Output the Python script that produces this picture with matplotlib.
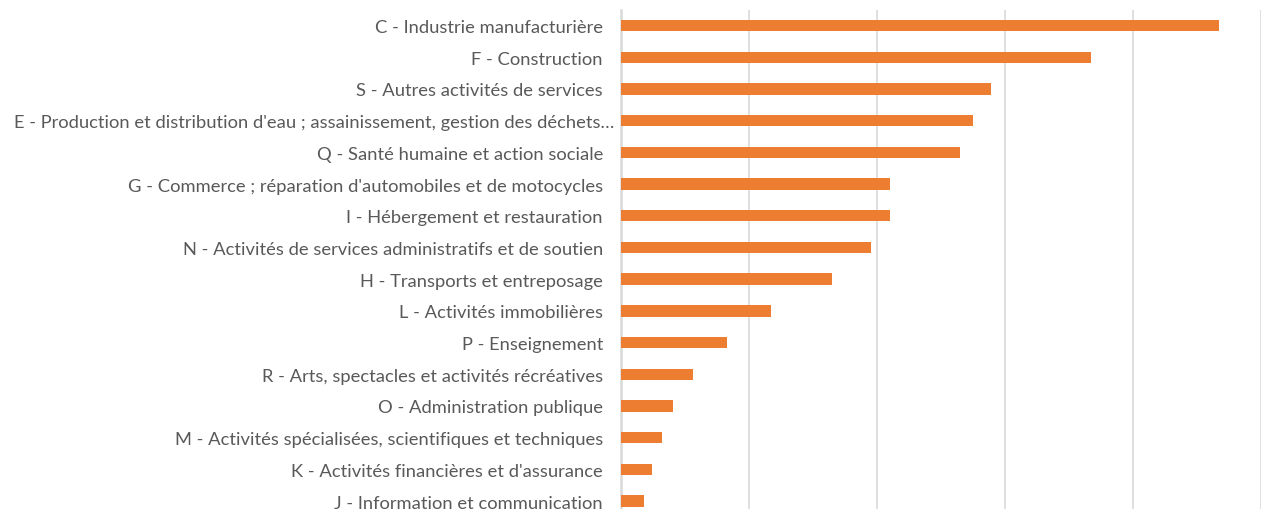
import matplotlib
matplotlib.use('Agg')
from matplotlib import pyplot as plt
from matplotlib.transforms import ScaledTranslation

plt.rcParams['font.family'] = ['Lato', 'DejaVu Sans']

# Données (de haut en bas)
secteurs = [
    "C - Industrie manufacturière",
    "F - Construction",
    "S - Autres activités de services",
    "E - Production et distribution d'eau ; assainissement, gestion des déchets…",
    "Q - Santé humaine et action sociale",
    "G - Commerce ; réparation d'automobiles et de motocycles",
    "I - Hébergement et restauration",
    "N - Activités de services administratifs et de soutien",
    "H - Transports et entreposage",
    "L - Activités immobilières",
    "P - Enseignement",
    "R - Arts, spectacles et activités récréatives",
    "O - Administration publique",
    "M - Activités spécialisées, scientifiques et techniques",
    "K - Activités financières et d'assurance",
    "J - Information et communication",
]
valeurs = [4674, 3674, 2893, 2750, 2645, 2102, 2098, 1955, 1651, 1169,
           828, 563, 409, 317, 245, 177]

fig = plt.figure(figsize=(12.8, 5.1), dpi=100)
ax = fig.add_axes([621 / 1280, 0, 640 / 1280, 1 - 10.7 / 510])

pos = list(range(len(secteurs) - 1, -1, -1))
ax.barh(pos, valeurs, height=0.36, color='#ED7D31', zorder=3)

ax.set_xlim(0, 5000)
ax.set_ylim(-0.25, len(secteurs) - 0.5)
ax.set_xticks(range(0, 5001, 1000))
ax.xaxis.grid(True, color='#D9D9D9', linewidth=1.2, zorder=0)
ax.tick_params(axis='x', length=0, labelbottom=False)

ax.set_yticks(pos)
ax.set_yticklabels(secteurs, fontsize=13.2, color='#595959')
ax.tick_params(axis='y', length=0, pad=13)

# le libellé tronqué déborde un peu vers la droite
lab = ax.get_yticklabels()[3]
lab.set_transform(lab.get_transform() + ScaledTranslation(11 / 100, 0, fig.dpi_scale_trans))

for s in ['top', 'right', 'bottom']:
    ax.spines[s].set_visible(False)
ax.spines['left'].set_color('#D9D9D9')
ax.spines['left'].set_linewidth(1.8)

fig.savefig('out.png', dpi=100)
